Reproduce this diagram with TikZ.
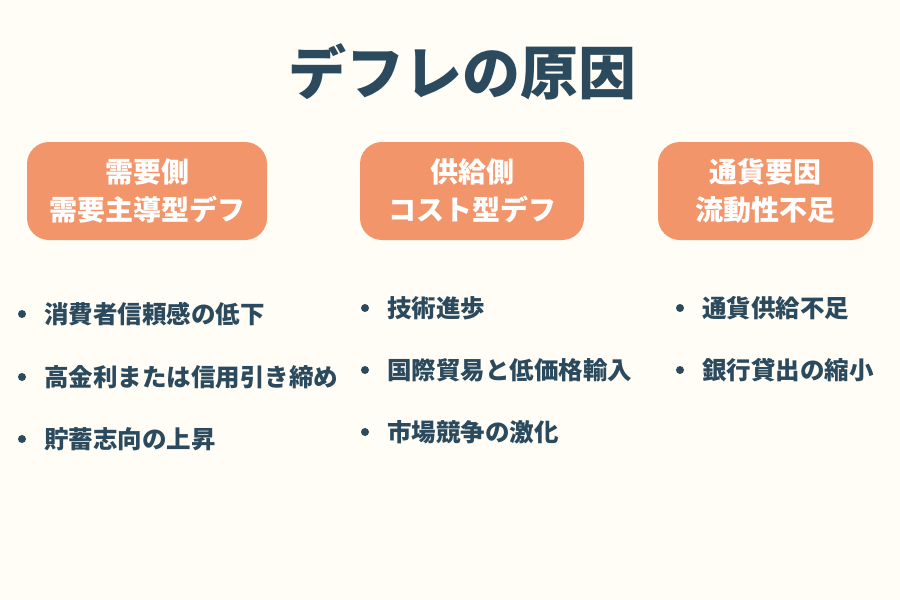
\documentclass[tikz,border=0pt]{standalone}
\usepackage{fontspec}
\newfontfamily\cjk{Noto Sans CJK JP}
\definecolor{bg}{HTML}{FFFDF5}
\definecolor{box}{HTML}{F2956A}
\definecolor{ink}{HTML}{2B4A5E}
\begin{document}
\begin{tikzpicture}[x=1pt,y=-1pt,
  hbox/.style={fill=box,rounded corners=22pt,text=white,font=\cjk\bfseries\fontsize{28}{38}\selectfont,align=center,inner sep=0pt},
  item/.style={anchor=west,text=ink,font=\cjk\bfseries\fontsize{24.5}{28}\selectfont,inner sep=0pt},
  dot/.style={circle,fill=ink,inner sep=0pt,minimum size=8pt}]
\useasboundingbox[fill=bg] (0,0) rectangle (900,600);
\node[text=ink,font=\cjk\bfseries\fontsize{58}{64}\selectfont] (title) at (462,72) {デフレの原因};
\node[hbox,minimum width=240pt,minimum height=98pt] (b1) at (147,191) {需要側\\需要主導型デフ};
\node[hbox,minimum width=224pt,minimum height=98pt] (b2) at (472,191) {供給側\\コスト型デフ};
\node[hbox,minimum width=215pt,minimum height=98pt] (b3) at (765.5,191) {通貨要因\\流動性不足};
\foreach \n/\y/\t in {a1/314/消費者信頼感の低下,a2/377/高金利または信用引き締め,a3/439/貯蓄志向の上昇}{
  \node[dot] (d\n) at (22,\y) {}; \node[item] (\n) at (44,\y) {\t};}
\foreach \n/\y/\t in {c1/308/技術進歩,c2/370/国際貿易と低価格輸入,c3/432/市場競争の激化}{
  \node[dot] (d\n) at (365,\y) {}; \node[item] (\n) at (387,\y) {\t};}
\foreach \n/\y/\t in {e1/308/通貨供給不足,e2/370/銀行貸出の縮小}{
  \node[dot] (d\n) at (680,\y) {}; \node[item] (\n) at (702,\y) {\t};}
\end{tikzpicture}
\end{document}
